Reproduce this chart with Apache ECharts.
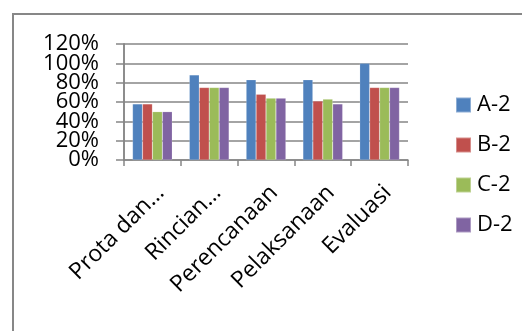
<!DOCTYPE html>
<html>
<head>
<meta charset="utf-8"/>
<title>chart</title>
<script src="https://cdn.jsdelivr.net/npm/echarts@6/dist/echarts.min.js"></script>
<style>
	body { margin: 0; padding: 0; background: #fff; }
	#main { width: 522px; height: 331px; }
</style>
</head>
<body>
<div id="main"></div>
<script>
	// data
	var categories = ['Prota dan…', 'Rincian…', 'Perencanaan', 'Pelaksanaan', 'Evaluasi'];
	var seriesNames = ['A-2', 'B-2', 'C-2', 'D-2'];
	var data_a = [0.58, 0.88, 0.83, 0.83, 1.00];
	var data_b = [0.58, 0.75, 0.68, 0.61, 0.75];
	var data_c = [0.50, 0.75, 0.64, 0.63, 0.75];
	var data_d = [0.50, 0.75, 0.64, 0.58, 0.75];
	var yTicks = [0, 0.2, 0.4, 0.6, 0.8, 1.0, 1.2];
	var colors = ['#4f81bd', '#c0504d', '#9bbb59', '#8064a2'];

	var font = '"Open Sans", sans-serif';
	var values = [data_a, data_b, data_c, data_d];
	var series = [];
	for (var i = 0; i < seriesNames.length; i++) {
		series.push({
			name: seriesNames[i],
			type: 'bar',
			barGap: 0,
			barCategoryGap: '30%',
			itemStyle: { color: colors[i], borderColor: 'rgba(255,255,255,0.35)', borderWidth: 0.5 },
			data: values[i]
		});
	}

	// labels overlap (big font), so split them over two axes with the same scale
	function pct(v) { return Math.round(v * 100); }
	var yMax = yTicks[yTicks.length - 1];
	var labelStyle = { margin: 25, fontFamily: font, fontSize: 22, color: '#000' };

	var myChart = echarts.init(document.getElementById('main'));
	var option = {
		animation: false,
		color: colors,
		graphic: [{
			type: 'rect',
			shape: { x: 13, y: 14, width: 540, height: 340 },
			style: { fill: 'none', stroke: '#878787', lineWidth: 2 }
		}],
		grid: { left: 124, right: 114, top: 44, bottom: 171 },
		legend: {
			orient: 'vertical',
			left: 450,
			top: 89,
			itemWidth: 15,
			itemHeight: 15,
			itemGap: 18,
			icon: 'rect',
			textStyle: { fontFamily: font, fontSize: 22, color: '#000', padding: [0, 0, 0, 1] },
			data: seriesNames
		},
		xAxis: {
			type: 'category',
			data: categories,
			axisLine: { lineStyle: { color: '#868686', width: 1.5 } },
			axisTick: { show: true, length: 6, lineStyle: { color: '#868686', width: 1.5 } },
			axisLabel: {
				rotate: 45, interval: 0, margin: 21, verticalAlign: 'top',
				fontFamily: font, fontSize: 23, color: '#000'
			}
		},
		yAxis: [
			{
				type: 'value',
				position: 'left',
				min: 0,
				max: yMax,
				interval: 0.4,
				axisLine: { show: true, lineStyle: { color: '#868686', width: 1.5 } },
				axisTick: { show: false },
				splitLine: { show: false },
				axisLabel: Object.assign({
					formatter: function (v) { return pct(v) + '%'; }
				}, labelStyle)
			},
			{
				type: 'value',
				position: 'left',
				offset: 0,
				min: 0,
				max: yMax,
				interval: 0.2,
				axisLine: { show: true, lineStyle: { color: '#868686', width: 1.5 } },
				axisTick: { show: true, length: 8, lineStyle: { color: '#868686', width: 1.5 } },
				splitLine: { show: true, lineStyle: { color: '#868686', width: 1.5 } },
				axisLabel: Object.assign({
					formatter: function (v) { return (pct(v) / 20) % 2 === 1 ? pct(v) + '%' : ''; }
				}, labelStyle)
			}
		],
		series: series
	};
	myChart.setOption(option);
</script>
</body>
</html>
